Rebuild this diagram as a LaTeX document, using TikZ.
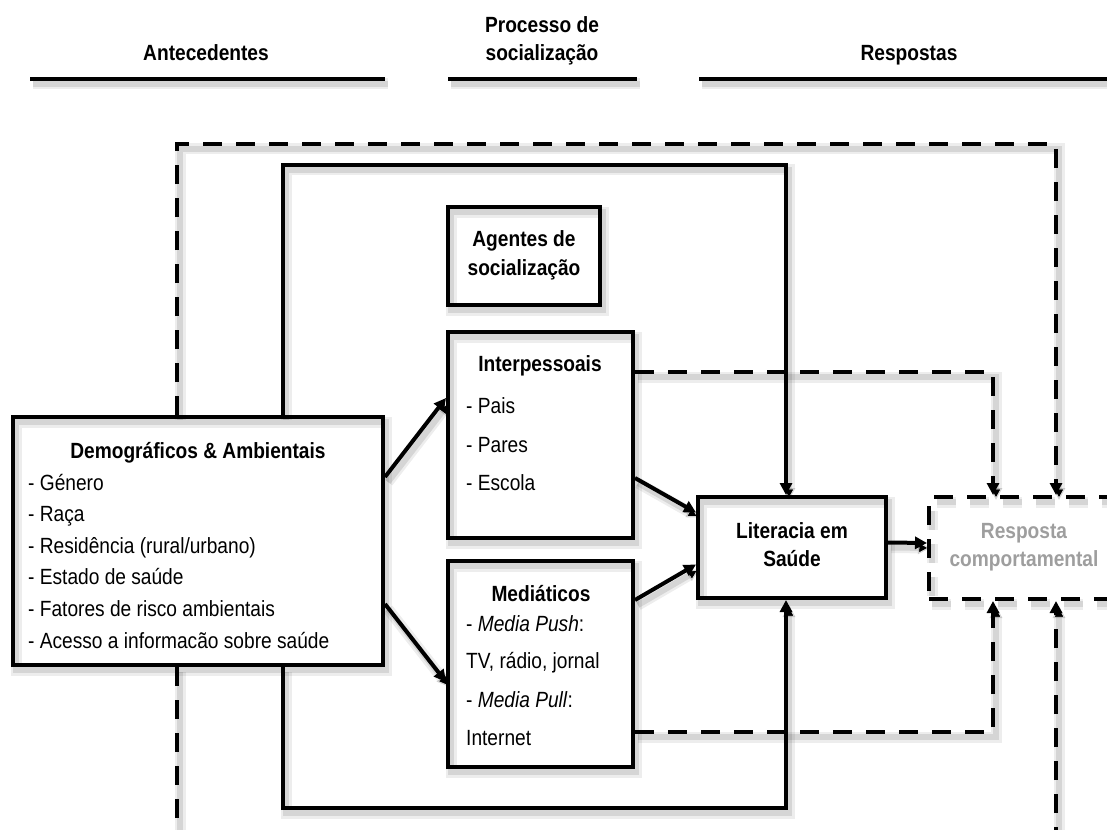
\documentclass[tikz,border=0pt]{standalone}
\usepackage{fontspec}
\setmainfont{Liberation Sans}[FakeStretch=0.87]
\usetikzlibrary{arrows.meta}

\tikzset{
  % soft drop shadow under every stroke
  sh/.style={
    preaction={draw=black, draw opacity=0.07, line width=11pt, transform canvas={shift={(3pt,-5pt)}}},
    preaction={draw=black, draw opacity=0.10, line width=6pt, transform canvas={shift={(3pt,-5pt)}}}},
  box/.style={sh, draw, line width=4pt, inner sep=0pt},
  dbox/.style={box, dash pattern=on 19pt off 14pt},
  conn/.style={sh, line width=4pt, -{Triangle[length=12pt,width=12pt]}},
  dconn/.style={conn, dash pattern=on 19pt off 14pt},
  hline/.style={sh, line width=4.5pt},
  txt/.style={inner sep=0pt, font=\fontsize{22}{26}\selectfont},
  ttl/.style={inner sep=0pt, font=\fontsize{22}{26}\selectfont\bfseries},
}

\begin{document}
\begin{tikzpicture}[x=1pt, y=-1pt]
\useasboundingbox (0,0) rectangle (1107,829);
\clip (0,0) rectangle (1107,829);

% column headings
\node[ttl, anchor=base] (hA) at (206,61) {Antecedentes};
\node[ttl, anchor=base] (hP1) at (542,33) {Processo de};
\node[ttl, anchor=base] (hP2) at (542,61) {socialização};
\node[ttl, anchor=base] (hR) at (909,61) {Respostas};
\coordinate (lA1) at (30,79);  \coordinate (lA2) at (385,79);
\coordinate (lP1) at (448,79); \coordinate (lP2) at (637,79);
\coordinate (lR1) at (699,79); \coordinate (lR2) at (1120,79);
\draw[hline] (lA1) -- (lA2);
\draw[hline] (lP1) -- (lP2);
\draw[hline] (lR1) -- (lR2);

% boxes
\node[box, minimum width=370pt, minimum height=248pt] (demo) at (198,541) {};
\node[box, minimum width=152pt, minimum height=98pt] (agentes) at (524,256) {};
\node[box, minimum width=185pt, minimum height=206pt] (interp) at (540.5,435) {};
\node[box, minimum width=185pt, minimum height=206pt] (media) at (540.5,664) {};
\node[box, minimum width=188pt, minimum height=101pt] (lit) at (792,547.5) {};
\node[dbox, minimum width=192pt, minimum height=102pt] (resp) at (1025,548) {};

% box texts
\node[ttl, anchor=base] (demoT) at (198,458) {Demográficos \& Ambientais};
\foreach \t [count=\i] in {Género, Raça, Residência (rural/urbano), Estado de saúde,
    Fatores de risco ambientais, Acesso a informacão sobre saúde}
  \node[txt, anchor=base west] (demo\i) at (28,{490+(\i-1)*31.6}) {- \t};

\node[ttl, anchor=base] (agT1) at (524,246) {Agentes de};
\node[ttl, anchor=base] (agT2) at (524,275) {socialização};

\node[ttl, anchor=base] (intT) at (540,371) {Interpessoais};
\node[txt, anchor=base west] (int1) at (466,413) {- Pais};
\node[txt, anchor=base west] (int2) at (466,452) {- Pares};
\node[txt, anchor=base west] (int3) at (466,490) {- Escola};

\node[ttl, anchor=base] (medT) at (541,601) {Mediáticos};
\node[txt, anchor=base west] (med1) at (466,631) {- \textit{Media Push}:};
\node[txt, anchor=base west] (med2) at (466,668) {TV, rádio, jornal};
\node[txt, anchor=base west] (med3) at (466,707) {- \textit{Media Pull}:};
\node[txt, anchor=base west] (med4) at (466,745) {Internet};

\node[ttl, anchor=base] (litT1) at (792,538) {Literacia em};
\node[ttl, anchor=base] (litT2) at (792,566) {Saúde};

\node[ttl, anchor=base, text=black!38] (respT1) at (1024,538) {Resposta};
\node[ttl, anchor=base, text=black!38] (respT2) at (1024,566) {comportamental};

% loop corners
\coordinate (oTL) at (177,144);  \coordinate (oTR) at (1056,144);
\coordinate (oBL) at (177,845);  \coordinate (oBR) at (1056,845);
\coordinate (iTL) at (283,165);  \coordinate (iTR) at (786,165);
\coordinate (iBL) at (283,808);  \coordinate (iBR) at (786,808);
\coordinate (mT) at (993,372);   \coordinate (mB) at (993,732);

% outer dashed loop
\draw[dconn] (demo.north -| oTL) -- (oTL) -- (oTR) -- (resp.north -| oTR);
\draw[dconn] (demo.south -| oBL) -- (oBL) -- (oBR) -- (resp.south -| oBR);

% inner solid loop
\draw[conn, line join=miter] (demo.north -| iTL) -- (iTL) -- (iTR) -- (lit.north -| iTR);
\draw[conn, line join=miter] (demo.south -| iBL) -- (iBL) -- (iBR) -- (lit.south -| iBR);

% dashed links from the agents to the response
\draw[dconn] (interp.east |- mT) -- (mT) -- (resp.north -| mT);
\draw[dconn] (media.east |- mB) -- (mB) -- (resp.south -| mB);

% solid arrows
\draw[conn] ([yshift=64pt]demo.east) -- ([yshift=37pt]interp.west);
\draw[conn] ([yshift=-63pt]demo.east) -- ([yshift=-18pt]media.west);
\draw[conn] ([yshift=-43pt]interp.east) -- ([yshift=35pt]lit.west);
\draw[conn] ([yshift=64pt]media.east) -- ([yshift=-17pt]lit.west);
\draw[conn] ([yshift=5pt]lit.east) -- ([yshift=5pt]resp.west);
\end{tikzpicture}
\end{document}
